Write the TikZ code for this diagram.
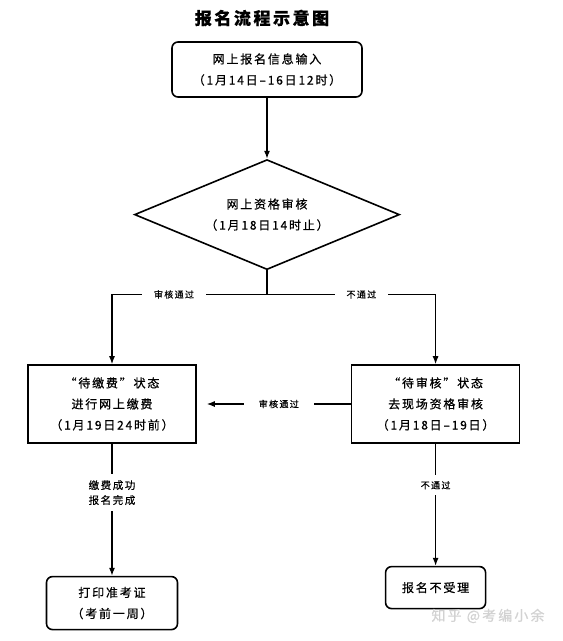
\documentclass[tikz,border=0pt]{standalone}
\usepackage{fontspec}
\setmainfont{Noto Sans CJK SC}[LetterSpace=15, FakeBold=0.6]
\usetikzlibrary{positioning, shapes.geometric, arrows.meta}

\begin{document}
\begin{tikzpicture}[x=1pt, y=-1pt,
    box/.style={draw, line width=1.6pt, align=center, inner sep=0pt, font=\fontsize{12}{21}\selectfont},
    tag/.style={fill=white, inner xsep=12pt, inner ysep=6pt, align=center, font=\fontsize{9}{13}\selectfont},
    flow/.style={line width=1.2pt, -{Latex[length=8pt, width=6pt]}}]

    \useasboundingbox (0,0) rectangle (563,641);

    \node[font=\bfseries\fontsize{17}{20}\selectfont] (title) at (262,18) {报名流程示意图};

    \node[box, rounded corners=6pt, minimum width=190pt, minimum height=55pt] (input) at (267,69.5) {网上报名信息输入\\（1月14日–16日12时）};
    \node[box, diamond, aspect=2.4, minimum width=265pt, minimum height=110pt, below=61pt of input] (check) {网上资格审核\\（1月18日14时止）};

    \node[box, minimum width=168pt, minimum height=78pt] (pay) at (112,404) {“待缴费”状态\\进行网上缴费\\（1月19日24时前）};
    \node[box, minimum width=168pt, minimum height=78pt, right=154pt of pay] (site) {“待审核”状态\\去现场资格审核\\（1月18日–19日）};

    \node[box, rounded corners=6pt, minimum width=131pt, minimum height=53pt, below=132pt of pay] (print) {打印准考证\\（考前一周）};
    \node[box, rounded corners=6pt, minimum width=100pt, minimum height=42pt, below=122pt of site] (refuse) {报名不受理};

    % connectors
    \draw[flow] (input) -- (check);
    \draw[line width=1.2pt] (check.south) -- ++(0,24) coordinate (fork);
    \draw[flow] (fork) -| node[tag, pos=0.3] {审核通过} (pay.north);
    \draw[flow] (fork) -| node[tag, pos=0.28] {不通过} (site.north);
    \draw[flow] (site.west) -- node[tag, inner xsep=15pt] {审核通过} ([xshift=10pt]pay.east);
    \draw[flow] (pay) -- node[tag, pos=0.37, font=\fontsize{10.5}{15}\selectfont] {缴费成功\\报名完成} (print);
    \draw[flow] (site) -- node[tag, pos=0.34] {不通过} (refuse);

    \node[text=gray!35, font=\fontsize{14}{16}\selectfont] (mark) at (488,616) {知乎 @考编小余};

\end{tikzpicture}
\end{document}
